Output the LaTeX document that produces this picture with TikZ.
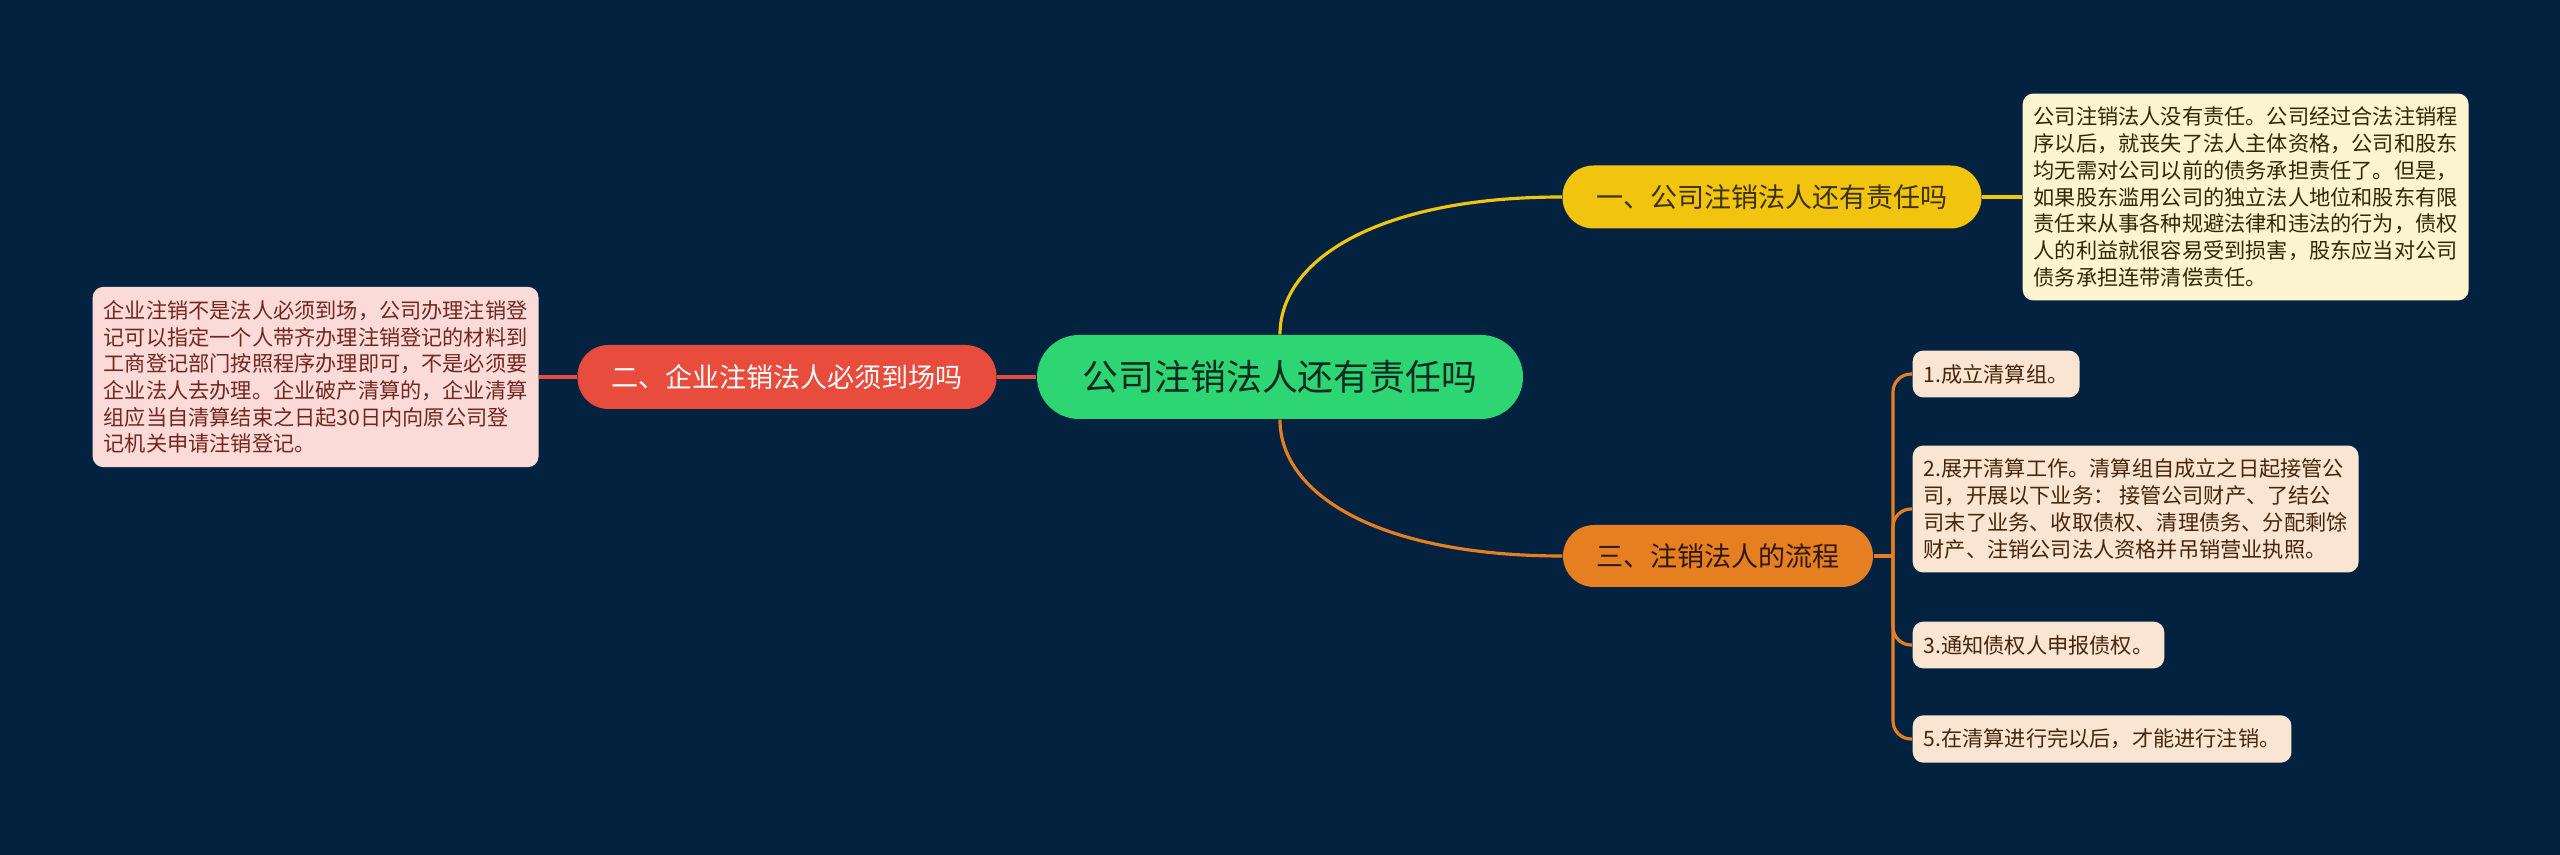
\documentclass[tikz,border=0pt]{standalone}
\usepackage{fontspec}
\usepackage{tikz}
\usetikzlibrary{positioning, calc}
\newfontfamily\cjk{Noto Sans CJK SC}
\definecolor{mBg}{RGB}{3,34,64}
\definecolor{mGreen}{HTML}{2ED573}
\definecolor{mYellow}{HTML}{F1C40F}
\definecolor{mOrange}{HTML}{E67E22}
\definecolor{mRed}{HTML}{E74C3C}
\definecolor{yellowNote}{HTML}{FCF3CF}
\definecolor{redNote}{HTML}{FADBD8}
\definecolor{orangeNote}{HTML}{FAE5D3}

\begin{document}
\begin{tikzpicture}[
  root/.style={fill=mGreen, rounded corners=0.42cm, minimum width=4.86cm,
               minimum height=0.84cm, inner sep=0pt, text=mBg!60!mGreen!40!black,
               font=\cjk\fontsize{10.2}{12}\selectfont},
  topic/.style={rounded corners=0.31cm, minimum height=0.63cm, inner sep=0pt,
                font=\cjk\fontsize{7.7}{9}\selectfont},
  note/.style={rounded corners=3pt, align=left, inner xsep=0.11cm, inner ysep=0.135cm,
               anchor=west, font=\cjk\fontsize{6.03}{7.6}\selectfont},
  link/.style={line width=0.9pt},
]
  \fill[mBg] (0,0) rectangle (25.6,-8.55);

  \node[root] (ctr) at (12.80,-3.77) {公司注销法人还有责任吗};

  \node[topic, fill=mYellow, text=black!75!mYellow, minimum width=4.19cm] (n1) at (17.72,-1.97) {一、公司注销法人还有责任吗};
  \node[topic, fill=mRed, text=white, minimum width=4.19cm, minimum height=0.64cm] (n2) at (7.87,-3.77) {二、企业注销法人必须到场吗};
  \node[topic, fill=mOrange, text=black!80!mOrange, minimum width=3.10cm, minimum height=0.62cm] (n3) at (17.18,-5.56) {三、注销法人的流程};

  \node[note, fill=yellowNote, text=black!80!mYellow] (t1) at (20.22,-1.97) {公司注销法人没有责任。公司经过合法注销程\\序以后，就丧失了法人主体资格，公司和股东\\均无需对公司以前的债务承担责任了。但是，\\如果股东滥用公司的独立法人地位和股东有限\\责任来从事各种规避法律和违法的行为，债权\\人的利益就很容易受到损害，股东应当对公司\\债务承担连带清偿责任。};
  \node[note, fill=redNote, text=mRed!50!black] (t2) at (0.92,-3.77) {企业注销不是法人必须到场，公司办理注销登\\记可以指定一个人带齐办理注销登记的材料到\\工商登记部门按照程序办理即可，不是必须要\\企业法人去办理。企业破产清算的，企业清算\\组应当自清算结束之日起30日内向原公司登\\记机关申请注销登记。};

  \node[note, fill=orangeNote, text=mOrange!30!black] (s1) at (19.12,-3.74) {1.成立清算组。};
  \node[note, fill=orangeNote, text=mOrange!30!black] (s2) at (19.12,-5.09) {2.展开清算工作。清算组自成立之日起接管公\\司，开展以下业务： 接管公司财产、了结公\\司末了业务、收取债权、清理债务、分配剩馀\\财产、注销公司法人资格并吊销营业执照。};
  \node[note, fill=orangeNote, text=mOrange!30!black] (s3) at (19.12,-6.45) {3.通知债权人申报债权。};
  \node[note, fill=orangeNote, text=mOrange!30!black] (s4) at (19.12,-7.39) {5.在清算进行完以后，才能进行注销。};

  \coordinate (jn) at (18.93,-5.56);

  \draw[link, mYellow] (ctr.north) .. controls +(0,0.75) and +(-1.83,0) .. (n1.west);
  \draw[link, mYellow] (n1.east) -- (t1.west);
  \draw[link, mOrange] (ctr.south) .. controls +(0,-0.75) and +(-1.83,0) .. (n3.west);
  \draw[link, mRed] (ctr.west) -- (n2.east);
  \draw[link, mRed] (n2.west) -- (t2.east);
  \draw[link, mOrange] (n3.east) -- (jn);
  \foreach \s in {s1,s2,s3,s4}
    \draw[link, mOrange, rounded corners=0.18cm] (jn) |- (\s.west);
\end{tikzpicture}
\end{document}
